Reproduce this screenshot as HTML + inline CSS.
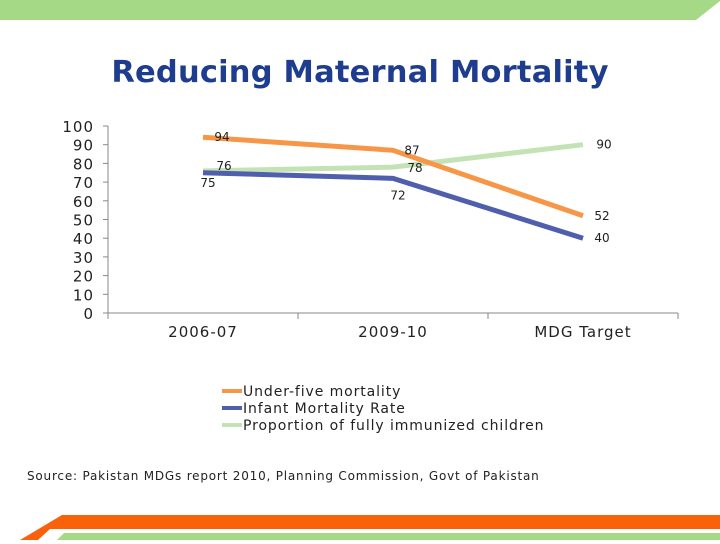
<!DOCTYPE html>
<html><head><meta charset="utf-8"><style>
body{margin:0;width:720px;height:540px;overflow:hidden;background:#fff;font-family:"DejaVu Sans","Liberation Sans",sans-serif}
</style></head><body>
<svg width="720" height="540" viewBox="0 0 720 540">
<polygon points="0,0 720,0 720,1 696,20 0,20" fill="#a6d985"/>
<polygon points="62,515 720,515 720,529 50,529 38,540 20,540" fill="#f9620b"/>
<polygon points="64,533 720,533 720,540 57,540" fill="#a6d985"/>
<text x="360" y="82" text-anchor="middle" font-size="30.5" font-weight="bold" letter-spacing="0.2" fill="#1f3d8f">Reducing Maternal Mortality</text>
<g id="chart"></g>
<g font-size="14" letter-spacing="0.9" fill="#222">
<rect x="222" y="389" width="20" height="4" fill="#f79646"/>
<text x="243" y="396">Under-five mortality</text>
<rect x="222" y="406" width="20" height="4" fill="#4f5fad"/>
<text x="243" y="413">Infant Mortality Rate</text>
<rect x="222" y="423" width="20" height="4" fill="#c4e3b5"/>
<text x="243" y="430">Proportion of fully immunized children</text>
</g>
<text x="27" y="480" font-size="12" letter-spacing="0.8" fill="#222">Source: Pakistan MDGs report 2010, Planning Commission, Govt of Pakistan</text>
</svg>
<script>
const categories=["2006-07","2009-10","MDG Target"];
const underFive=[94,87,52];
const infant=[75,72,40];
const immunized=[76,78,90];
const yTicks=[0,10,20,30,40,50,60,70,80,90,100];
const NS="http://www.w3.org/2000/svg";
const g=document.getElementById('chart');
const x0=108,x1=678,y0=313,y1=126;
const yS=v=>y0-(v/100)*(y0-y1);
const bw=(x1-x0)/categories.length;
const xS=i=>x0+bw*(i+0.5);
function mk(t,a){const e=document.createElementNS(NS,t);for(const k in a)e.setAttribute(k,a[k]);g.appendChild(e);return e;}
let ax=mk('line',{x1:x0,y1:y1,x2:x0,y2:y0,stroke:'#888'});


let bx=mk('line',{x1:x0,y1:y0,x2:x1,y2:y0,stroke:'#888'});


yTicks.forEach(v=>{
 let tk=mk('line',{x1:x0-5,y1:yS(v),x2:x0,y2:yS(v),stroke:'#888'});
 
 
 let t=mk('text',{x:94,y:yS(v)+6,'text-anchor':'end','font-size':15,'letter-spacing':1,fill:'#222'});
 t.textContent=v;
 
 
});
for(let i=0;i<=categories.length;i++){
 let tk=mk('line',{x1:x0+bw*i,y1:y0,x2:x0+bw*i,y2:y0+6,stroke:'#888'});
 
 
}
categories.forEach((c,i)=>{
 let t=mk('text',{x:xS(i),y:337,'text-anchor':'middle','font-size':15,'letter-spacing':1,fill:'#222'});
 t.textContent=c;
 
 
});
const series=[
 {d:immunized,c:'#c4e3b5',n:'immunized',off:[[21,-1],[22,5],[21,4]]},
 {d:infant,c:'#4f5fad',n:'infant',off:[[5,14],[5,21],[19,4]]},
 {d:underFive,c:'#f79646',n:'under-five',off:[[19,4],[19,4],[19,4]]}
];
series.forEach(s=>{
 let p=mk('polyline',{points:s.d.map((v,i)=>xS(i)+','+yS(v)).join(' '),fill:'none',stroke:s.c,'stroke-width':5});
 
 
});
series.forEach(s=>{
 s.d.forEach((v,i)=>{
  let t=mk('text',{x:xS(i)+s.off[i][0],y:yS(v)+s.off[i][1],'text-anchor':'middle','font-size':12,fill:'#222'});
  t.textContent=v;
  
  
 });
});
</script>
</body></html>
